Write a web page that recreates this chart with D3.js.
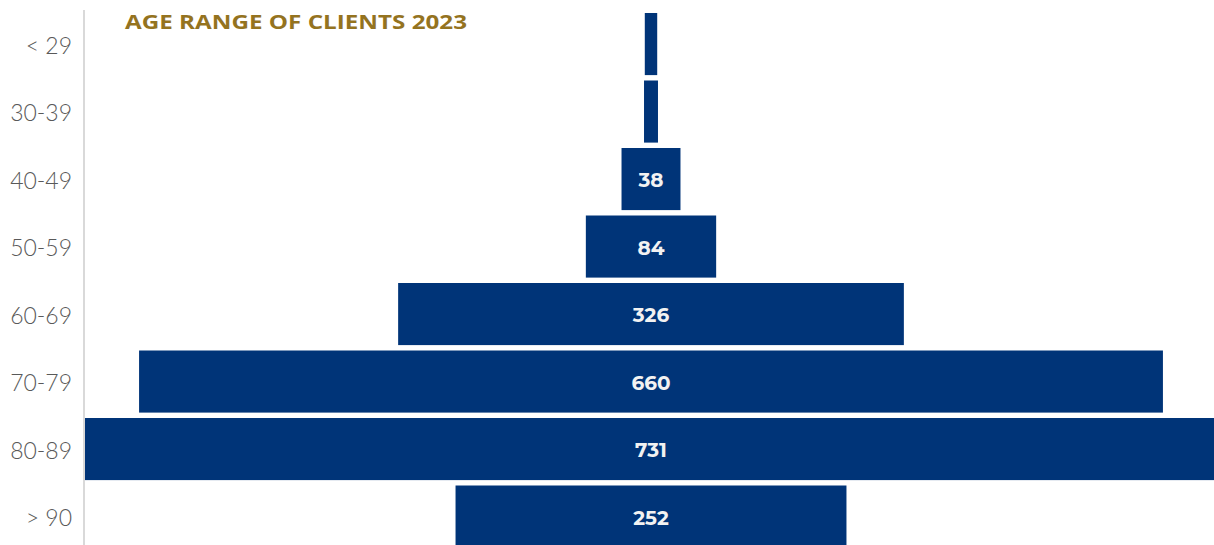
<!DOCTYPE html>
<html>
<head>
<meta charset="utf-8">
<script src="https://cdn.jsdelivr.net/npm/d3@7"></script>
<style>
  html, body { margin: 0; padding: 0; background: #fff; }
  svg { display: block; }
</style>
</head>
<body>
<svg id="chart" width="1214" height="545"></svg>
<script>
// Age ranges and client counts
const ageRanges = ["< 29", "30-39", "40-49", "50-59", "60-69", "70-79", "80-89", "> 90"];
const clientCounts = [8, 9, 38, 84, 326, 660, 731, 252];
const chartTitle = "AGE RANGE OF CLIENTS 2023";

const W = 1214, H = 545;
const centerX = 651;
const axisX = 84;

const svg = d3.select("#chart");

const y = d3.scaleBand()
  .domain(ageRanges)
  .range([10.3, 550.3])
  .paddingInner(0.08)
  .paddingOuter(0.04);

// width of each bar, centred on the middle line
const w = d3.scaleLinear().domain([0, 731]).range([0, 1134]);

const data = ageRanges.map((a, i) => ({ age: a, value: clientCounts[i] }));

// bars
svg.append("g").selectAll("rect")
  .data(data)
  .join("rect")
  .attr("x", d => centerX - w(d.value) / 2)
  .attr("y", d => y(d.age))
  .attr("width", d => w(d.value))
  .attr("height", y.bandwidth())
  .attr("fill", "#003478");

// value labels inside bars wide enough to hold them
svg.append("g").selectAll("text")
  .data(data.filter(d => w(d.value) > 40))
  .join("text")
  .attr("x", centerX)
  .attr("y", d => y(d.age) + y.bandwidth() / 2)
  .attr("dy", "0.42em")
  .attr("text-anchor", "middle")
  .attr("font-family", "Montserrat, 'Open Sans', sans-serif")
  .attr("font-weight", 700)
  .attr("font-size", 20)
  .attr("fill", "#f2f2f2")
  .text(d => d.value);

// category axis on the left
const axis = svg.append("g")
  .attr("transform", `translate(${axisX},0)`)
  .call(d3.axisLeft(y).tickSize(0).tickPadding(12));
axis.select(".domain").remove();
axis.append("line")
  .attr("x1", 0).attr("x2", 0)
  .attr("y1", 10).attr("y2", H)
  .attr("stroke", "#d9d9d9")
  .attr("stroke-width", 2);
axis.selectAll(".tick text")
  .attr("font-family", "Lato, 'Open Sans', sans-serif")
  .attr("font-weight", 300)
  .attr("font-size", 23)
  .attr("fill", "#595959")
  .attr("dy", "0.42em");

// title
svg.append("text")
  .attr("x", 125)
  .attr("y", 29)
  .attr("font-family", "'Open Sans', sans-serif")
  .attr("font-weight", 700)
  .attr("font-size", 19.5)
  .attr("fill", "#94731f")
  .attr("textLength", 342)
  .attr("lengthAdjust", "spacingAndGlyphs")
  .text(chartTitle);
</script>
</body>
</html>
